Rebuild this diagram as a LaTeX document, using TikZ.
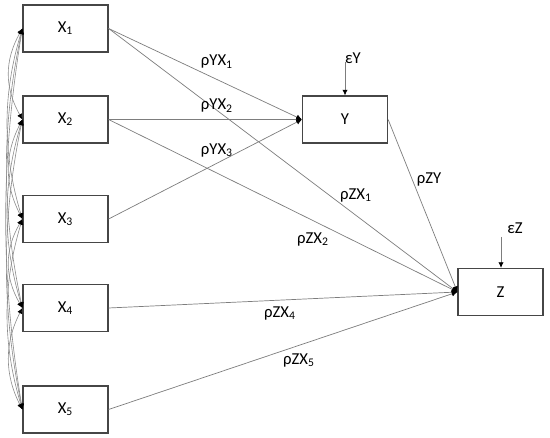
\documentclass[tikz,border=0pt]{standalone}
\usepackage{fontspec}
\setmainfont{Carlito}
\usetikzlibrary{arrows.meta}
\definecolor{boxline}{RGB}{70,70,70}
\definecolor{pathline}{RGB}{125,125,125}
\definecolor{corrline}{RGB}{140,140,140}
\tikzset{
  varbox/.style={rectangle, draw=boxline, fill=white, line width=0.7pt,
    minimum width=1.7cm, minimum height=0.94cm, inner sep=0pt,
    font=\fontsize{9.5}{11}\selectfont},
  lbl/.style={font=\fontsize{9.5}{11}\selectfont, inner sep=0pt},
  patharrow/.style={-{Latex[length=3.2pt,width=3pt,color=black]}, color=pathline, line width=0.4pt},
  errarrow/.style={-{Latex[length=3.2pt,width=3pt,color=black]}, color=pathline, line width=0.4pt},
  corrarrow/.style={{Latex[length=3.2pt,width=3pt,color=black]}-{Latex[length=3.2pt,width=3pt,color=black]}, color=corrline, line width=0.35pt}
}

\begin{document}
\begin{tikzpicture}[x=0.02cm, y=0.02cm]
  \useasboundingbox (0,0) rectangle (550,438);

  % Exogenous variables
  \node[varbox] (X1) at (65.5,409.5) {X\textsubscript{1}};
  \node[varbox] (X2) at (65.5,318.5) {X\textsubscript{2}};
  \node[varbox] (X3) at (65.5,219) {X\textsubscript{3}};
  \node[varbox] (X4) at (65.5,130) {X\textsubscript{4}};
  \node[varbox] (X5) at (65.5,28.5) {X\textsubscript{5}};

  % Endogenous variables
  \node[varbox] (Y) at (345,318.5) {Y};
  \node[varbox] (Z) at (500.5,146) {Z};

  % Error terms
  \node[lbl] (eY) at (353,380) {εY};
  \coordinate (eYs) at (345,376);
  \draw[errarrow] (eYs) -- (eYs |- Y.north);
  \node[lbl] (eZ) at (515,210) {εZ};
  \coordinate (eZs) at (501,201);
  \draw[errarrow] (eZs) -- (eZs |- Z.north);

  % Paths into Y
  \draw[patharrow] (X1.east) -- (Y.west);
  \draw[patharrow] (X2.east) -- (Y.west);
  \draw[patharrow] (X3.east) -- (Y.west);

  % Paths into Z
  \draw[patharrow] (X1.east) -- (Z.west);
  \draw[patharrow] (X2.east) -- (Z.west);
  \draw[patharrow] (X4.east) -- (Z.west);
  \draw[patharrow] (X5.east) -- (Z.west);
  \draw[patharrow] (Y.east) -- (Z.west);

  % Path coefficients
  \node[lbl] (pYX1) at (217,376) {ρYX\textsubscript{1}};
  \node[lbl] (pYX2) at (217,332) {ρYX\textsubscript{2}};
  \node[lbl] (pYX3) at (217,288) {ρYX\textsubscript{3}};
  \node[lbl] (pZX1) at (356,243) {ρZX\textsubscript{1}};
  \node[lbl] (pZX2) at (313,199) {ρZX\textsubscript{2}};
  \node[lbl] (pZY) at (429,259) {ρZY};
  \node[lbl] (pZX4) at (280,125) {ρZX\textsubscript{4}};
  \node[lbl] (pZX5) at (299,78) {ρZX\textsubscript{5}};

  % Correlations between the X's
  \draw[corrarrow] (X1.west) .. controls +(-18,-32) and +(-18,32) .. (X2.west);
  \draw[corrarrow] (X1.west) .. controls +(-20,-66) and +(-20,66) .. (X3.west);
  \draw[corrarrow] (X1.west) .. controls +(-21,-98) and +(-21,98) .. (X4.west);
  \draw[corrarrow] (X1.west) .. controls +(-22,-133) and +(-22,133) .. (X5.west);
  \draw[corrarrow] (X2.west) .. controls +(-18,-35) and +(-18,35) .. (X3.west);
  \draw[corrarrow] (X2.west) .. controls +(-20,-66) and +(-20,66) .. (X4.west);
  \draw[corrarrow] (X2.west) .. controls +(-21,-101) and +(-21,101) .. (X5.west);
  \draw[corrarrow] (X3.west) .. controls +(-18,-31) and +(-18,31) .. (X4.west);
  \draw[corrarrow] (X3.west) .. controls +(-20,-66) and +(-20,66) .. (X5.west);
  \draw[corrarrow] (X4.west) .. controls +(-18,-35) and +(-18,35) .. (X5.west);
\end{tikzpicture}
\end{document}
